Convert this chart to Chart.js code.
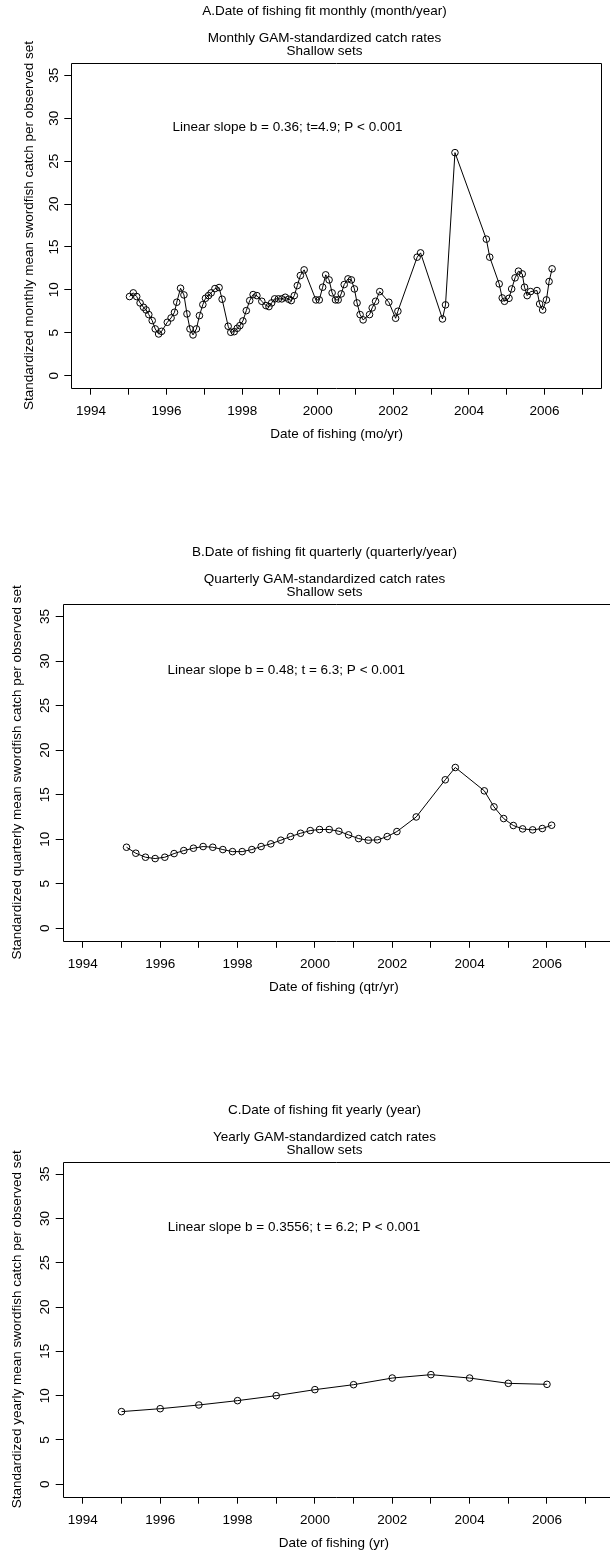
<!DOCTYPE html>
<html>
<head>
<meta charset="utf-8">
<script src="https://cdn.jsdelivr.net/npm/chart.js@4.4.1/dist/chart.umd.min.js"></script>
<style>
  html, body { margin: 0; padding: 0; background: #fff; overflow: hidden; }
  #page { position: relative; width: 610px; height: 1558px; }
  canvas { position: absolute; left: 0; }
</style>
</head>
<body>
<div id="page">
  <canvas id="panelA" width="610" height="460" style="top:0px"></canvas>
  <canvas id="panelB" width="610" height="490" style="top:530px"></canvas>
  <canvas id="panelC" width="610" height="468" style="top:1090px"></canvas>
</div>
<script>
// Monthly standardized catch (decimal year, catch per set)
const monthTime = [1995.02, 1995.12, 1995.21, 1995.30, 1995.39, 1995.46, 1995.53, 1995.62, 1995.70, 1995.79, 1995.87,
  1996.02, 1996.12, 1996.21, 1996.27, 1996.37, 1996.46, 1996.54, 1996.62, 1996.70, 1996.79, 1996.87, 1996.96,
  1997.03, 1997.11, 1997.18, 1997.28, 1997.39, 1997.47, 1997.63, 1997.70, 1997.79, 1997.87, 1997.94,
  1998.02, 1998.11, 1998.20, 1998.29, 1998.39, 1998.52, 1998.63, 1998.71, 1998.78, 1998.86, 1998.96,
  1999.05, 1999.14, 1999.23, 1999.30, 1999.38, 1999.46, 1999.54, 1999.64, 1999.95,
  2000.04, 2000.13, 2000.21, 2000.30, 2000.38, 2000.47, 2000.54, 2000.62, 2000.70, 2000.80, 2000.89, 2000.97,
  2001.04, 2001.12, 2001.20, 2001.37, 2001.44, 2001.53, 2001.64, 2001.88,
  2002.06, 2002.12, 2002.63, 2002.72, 2003.30, 2003.38, 2003.63,
  2004.46, 2004.55, 2004.80, 2004.88, 2004.94,
  2005.06, 2005.13, 2005.22, 2005.31, 2005.41, 2005.47, 2005.54, 2005.63, 2005.80, 2005.87, 2005.95,
  2006.05, 2006.12, 2006.20];
const monthCatch = [9.22, 9.65, 9.22, 8.48, 7.97, 7.66, 7.12, 6.42, 5.45, 4.86,
  5.17, 6.22, 6.73, 7.39, 8.56, 10.19, 9.41, 7.20, 5.45, 4.75,
  5.45, 7.00, 8.28, 9.02, 9.33, 9.65, 10.15, 10.27, 8.91, 5.76,
  5.06, 5.13, 5.52, 5.83, 6.38, 7.58, 8.75, 9.45, 9.33, 8.67,
  8.17, 8.05, 8.48, 8.95, 8.95, 8.95, 9.14, 8.91, 8.75, 9.33,
  10.50, 11.67, 12.33, 8.83, 8.83, 10.31, 11.75, 11.16, 9.65, 8.83,
  8.83, 9.53, 10.62, 11.28, 11.16, 10.11, 8.48, 7.12, 6.50, 7.12,
  7.90, 8.67, 9.80, 8.56, 6.69, 7.51, 13.81, 14.31, 6.61, 8.25,
  25.99, 15.91, 13.81, 10.70, 9.06, 8.67, 9.02, 10.11, 11.40, 12.18,
  11.86, 10.31, 9.33, 9.80, 9.92, 8.36, 7.66, 8.83, 10.97, 12.45];

// Quarterly standardized catch
const qtrTime = [1995.13, 1995.37, 1995.62, 1995.87, 1996.12, 1996.36, 1996.61, 1996.86,
  1997.11, 1997.36, 1997.62, 1997.87, 1998.12, 1998.37, 1998.61, 1998.86,
  1999.12, 1999.37, 1999.63, 1999.88, 2000.12, 2000.37, 2000.62, 2000.87,
  2001.13, 2001.38, 2001.62, 2001.87, 2002.12, 2002.62, 2003.37, 2003.63,
  2004.38, 2004.63, 2004.88, 2005.13, 2005.37, 2005.63, 2005.88, 2006.12];
const qtrCatch = [9.10, 8.43, 7.98, 7.83, 7.98, 8.39, 8.73, 8.99,
  9.18, 9.10, 8.84, 8.61, 8.61, 8.84, 9.18, 9.48,
  9.89, 10.30, 10.67, 10.97, 11.09, 11.09, 10.90, 10.49,
  10.07, 9.89, 9.93, 10.30, 10.86, 12.50, 16.67, 18.05,
  15.43, 13.63, 12.32, 11.54, 11.16, 11.05, 11.20, 11.57];

// Yearly standardized catch
const yearTime = [1995, 1996, 1997, 1998, 1999, 2000, 2001, 2002, 2003, 2004, 2005, 2006];
const yearCatch = [8.20, 8.53, 8.95, 9.44, 10.00, 10.68, 11.24, 11.99, 12.37, 11.99, 11.39, 11.28];

// axis ticks
const xTicks = [1994, 1995, 1996, 1997, 1998, 1999, 2000, 2001, 2002, 2003, 2004, 2005, 2006, 2007];
const yTicks = [0, 5, 10, 15, 20, 25, 30, 35];

const FONT = '"Liberation Sans", Arial, Helvetica, sans-serif';
const FS = 13.5;

// box round the plot, titles above it and the slope note inside it
const frame = {
  id: 'frame',
  afterDraw(chart, args, opts) {
    const { ctx, chartArea: a, scales } = chart;
    const L = Math.round(a.left) + 0.5, T = Math.round(a.top) + 0.5;
    const R = Math.round(a.right) - 0.5, B = Math.round(a.bottom) + 0.5;
    ctx.save();
    ctx.strokeStyle = '#000';
    ctx.lineWidth = 1;
    ctx.beginPath();
    if (opts.closed) {
      ctx.rect(L, T, R - L, B - T);
    } else {
      ctx.moveTo(chart.width, T); ctx.lineTo(L, T); ctx.lineTo(L, B); ctx.lineTo(chart.width, B);
    }
    ctx.stroke();

    ctx.fillStyle = '#000';
    ctx.font = FS + 'px ' + FONT;
    ctx.textAlign = 'center';
    ctx.textBaseline = 'middle';
    ctx.fillText(opts.main, 324.5, a.top - 51.7);
    ctx.fillText(opts.sub, 324.5, a.top - 24.7);
    ctx.fillText('Shallow sets', 324.5, a.top - 11.7);
    ctx.fillText(opts.note, scales.x.getPixelForValue(opts.noteX), scales.y.getPixelForValue(29));
    ctx.restore();
  }
};

function makePanel(id, p) {
  const data = p.time.map((t, i) => ({ x: t, y: p.values[i] }));
  return new Chart(document.getElementById(id), {
    type: 'line',
    data: {
      datasets: [{
        data: data,
        borderColor: '#000',
        borderWidth: 1,
        tension: 0,
        pointRadius: 3.3,
        pointBorderWidth: 1,
        pointBorderColor: '#000',
        pointBackgroundColor: 'rgba(0,0,0,0)'
      }]
    },
    options: {
      responsive: false,
      animation: false,
      layout: { padding: { top: p.top, right: p.right, bottom: 0, left: 0 } },
      plugins: {
        legend: { display: false },
        tooltip: { enabled: false },
        frame: { closed: p.closed, main: p.main, sub: p.sub, note: p.note, noteX: p.noteX }
      },
      scales: {
        x: {
          type: 'linear',
          min: 1993.48,
          max: p.xMax,
          afterBuildTicks: s => { s.ticks = xTicks.map(v => ({ value: v })); },
          afterFit: s => { s.height = p.xHeight; },
          border: { display: false },
          grid: { display: true, drawOnChartArea: false, drawTicks: true, tickLength: 7, color: '#000', lineWidth: 1 },
          ticks: {
            autoSkip: false, maxRotation: 0, padding: 8.6, color: '#000',
            font: { family: FONT, size: FS },
            callback: v => (v % 2 === 0 ? String(v) : '')
          },
          title: { display: true, text: p.xTitle, color: '#000', font: { family: FONT, size: FS },
                   padding: { top: 0, bottom: p.xTitlePad } }
        },
        y: {
          min: -1.4,
          max: 36.4,
          afterBuildTicks: s => { s.ticks = yTicks.map(v => ({ value: v })); },
          afterFit: s => { s.width = p.yWidth; },
          border: { display: false },
          grid: { display: true, drawOnChartArea: false, drawTicks: true, tickLength: 7, color: '#000', lineWidth: 1 },
          ticks: {
            autoSkip: false, minRotation: 90, maxRotation: 90, crossAlign: 'center', padding: p.yTickPad,
            color: '#000', font: { family: FONT, size: FS },
            callback: v => String(v)
          },
          title: { display: true, text: p.yTitle, color: '#000', font: { family: FONT, size: FS },
                   padding: { top: p.yTitlePad, bottom: 0 } }
        }
      }
    },
    plugins: [frame]
  });
}

makePanel('panelA', {
  time: monthTime, values: monthCatch,
  top: 63.3, right: 8, yWidth: 71.3, xHeight: 72.3, xMax: 2007.52, closed: true,
  xTitlePad: 17.6, yTitlePad: 21.5, yTickPad: 2.3,
  main: 'A.Date of fishing fit monthly (month/year)',
  sub: 'Monthly GAM-standardized catch rates',
  note: 'Linear slope b = 0.36; t=4.9; P < 0.001', noteX: 1999.2,
  xTitle: 'Date of fishing (mo/yr)',
  yTitle: 'Standardized monthly mean swordfish catch per observed set'
});

makePanel('panelB', {
  time: qtrTime, values: qtrCatch,
  top: 74, right: 0, yWidth: 62.7, xHeight: 79.2, xMax: 2007.5, closed: false,
  xTitlePad: 24.5, yTitlePad: 9.4, yTickPad: 3.2,
  main: 'B.Date of fishing fit quarterly (quarterly/year)',
  sub: 'Quarterly GAM-standardized catch rates',
  note: 'Linear slope b = 0.48; t = 6.3; P < 0.001', noteX: 1999.26,
  xTitle: 'Date of fishing (qtr/yr)',
  yTitle: 'Standardized quarterly mean swordfish catch per observed set'
});

makePanel('panelC', {
  time: yearTime, values: yearCatch,
  top: 71.7, right: 0, yWidth: 62.7, xHeight: 61.3, xMax: 2007.5, closed: false,
  xTitlePad: 6.6, yTitlePad: 9.4, yTickPad: 3.2,
  main: 'C.Date of fishing fit yearly (year)',
  sub: 'Yearly GAM-standardized catch rates',
  note: 'Linear slope b = 0.3556; t = 6.2; P < 0.001', noteX: 1999.46,
  xTitle: 'Date of fishing (yr)',
  yTitle: 'Standardized yearly mean swordfish catch per observed set'
});
</script>
</body>
</html>
